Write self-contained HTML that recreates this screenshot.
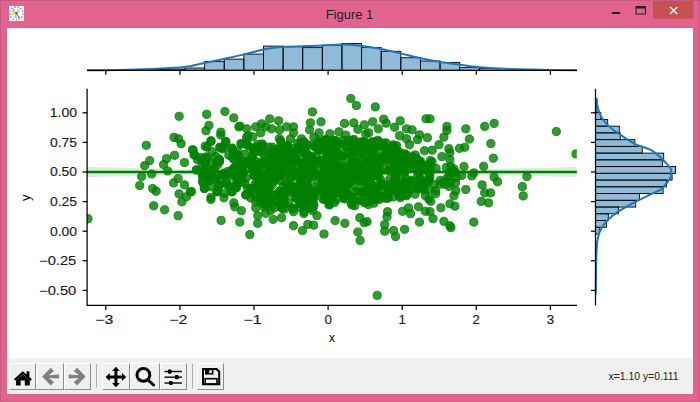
<!DOCTYPE html>
<html><head><meta charset="utf-8"><style>
html,body{margin:0;padding:0;width:700px;height:402px;overflow:hidden;background:#e3638f;font-family:"Liberation Sans",sans-serif}
.abs{position:absolute}
.btn{position:absolute;top:363px;height:27px;box-sizing:border-box;border-right:1px solid #8c8c8c;border-bottom:1px solid #8c8c8c;border-left:1px solid #fff;border-top:1px solid #fff;background:#f0f0f0}
.sep{position:absolute;top:364px;height:24px;width:1px;background:#b0b0b0}
svg text{font-family:"Liberation Sans",sans-serif}
.tl{stroke:#1a1a1a;stroke-width:0.12px;fill:#1a1a1a}
</style></head><body>
<div class="abs" style="left:0;top:0;width:700px;height:402px;box-sizing:border-box;border:1px solid #c65a80"></div>
<div class="abs" style="left:7px;top:28px;width:686px;height:330px;background:#fff"></div>
<div class="abs" style="left:7px;top:358px;width:686px;height:36px;background:#f0f0f0"></div>

<div class="btn" style="left:9px;width:27px"></div>
<div class="btn" style="left:36px;width:28px"></div>
<div class="btn" style="left:64px;width:27px"></div>
<div class="sep" style="left:96px"></div>
<div class="btn" style="left:102px;width:28px"></div>
<div class="btn" style="left:130px;width:30px"></div>
<div class="btn" style="left:160px;width:27px"></div>
<div class="sep" style="left:192px"></div>
<div class="btn" style="left:197px;width:27px"></div>

<svg class="abs" style="left:0;top:0" width="700" height="402" viewBox="0 0 700 402">
<rect x="145.76" y="69.5" width="19.62" height="0.80" fill="#1f77b4" fill-opacity="0.5" stroke="#000" stroke-width="0.9"/>
<rect x="165.38" y="69.1" width="19.62" height="1.20" fill="#1f77b4" fill-opacity="0.5" stroke="#000" stroke-width="0.9"/>
<rect x="185.00" y="68.0" width="19.62" height="2.30" fill="#1f77b4" fill-opacity="0.5" stroke="#000" stroke-width="0.9"/>
<rect x="204.62" y="61.6" width="19.62" height="8.70" fill="#1f77b4" fill-opacity="0.5" stroke="#000" stroke-width="0.9"/>
<rect x="224.24" y="59.1" width="19.62" height="11.20" fill="#1f77b4" fill-opacity="0.5" stroke="#000" stroke-width="0.9"/>
<rect x="243.86" y="54.1" width="19.62" height="16.20" fill="#1f77b4" fill-opacity="0.5" stroke="#000" stroke-width="0.9"/>
<rect x="263.48" y="46.1" width="19.62" height="24.20" fill="#1f77b4" fill-opacity="0.5" stroke="#000" stroke-width="0.9"/>
<rect x="283.10" y="46.7" width="19.62" height="23.60" fill="#1f77b4" fill-opacity="0.5" stroke="#000" stroke-width="0.9"/>
<rect x="302.72" y="47.6" width="19.62" height="22.70" fill="#1f77b4" fill-opacity="0.5" stroke="#000" stroke-width="0.9"/>
<rect x="322.34" y="45.2" width="19.62" height="25.10" fill="#1f77b4" fill-opacity="0.5" stroke="#000" stroke-width="0.9"/>
<rect x="341.96" y="43.4" width="19.62" height="26.90" fill="#1f77b4" fill-opacity="0.5" stroke="#000" stroke-width="0.9"/>
<rect x="361.58" y="47.6" width="19.62" height="22.70" fill="#1f77b4" fill-opacity="0.5" stroke="#000" stroke-width="0.9"/>
<rect x="381.20" y="51.3" width="19.62" height="19.00" fill="#1f77b4" fill-opacity="0.5" stroke="#000" stroke-width="0.9"/>
<rect x="400.82" y="57.7" width="19.62" height="12.60" fill="#1f77b4" fill-opacity="0.5" stroke="#000" stroke-width="0.9"/>
<rect x="420.44" y="61.0" width="19.62" height="9.30" fill="#1f77b4" fill-opacity="0.5" stroke="#000" stroke-width="0.9"/>
<rect x="440.06" y="62.4" width="19.62" height="7.90" fill="#1f77b4" fill-opacity="0.5" stroke="#000" stroke-width="0.9"/>
<rect x="459.68" y="67.6" width="19.62" height="2.70" fill="#1f77b4" fill-opacity="0.5" stroke="#000" stroke-width="0.9"/>
<rect x="479.30" y="68.4" width="19.62" height="1.90" fill="#1f77b4" fill-opacity="0.5" stroke="#000" stroke-width="0.9"/>
<path d="M87.0,70.2 C92.5,70.2 109.5,70.1 120.0,69.9 C130.5,69.7 139.3,69.5 150.0,69.0 C160.7,68.5 175.3,68.0 184.4,67.0 C193.5,66.0 197.8,64.3 204.4,62.9 C211.1,61.5 217.7,60.2 224.3,58.8 C231.0,57.4 237.8,55.9 244.3,54.4 C250.8,52.9 256.8,50.9 263.3,49.6 C269.8,48.3 276.8,47.3 283.4,46.8 C290.0,46.2 296.6,46.5 303.0,46.3 C309.4,46.1 315.6,45.9 322.0,45.6 C328.4,45.3 334.9,44.5 341.5,44.5 C348.1,44.5 355.2,45.2 361.8,45.9 C368.4,46.6 374.6,47.6 381.2,48.9 C387.8,50.2 394.8,52.0 401.4,53.6 C408.0,55.2 414.1,56.8 420.6,58.2 C427.1,59.6 434.1,60.8 440.6,61.9 C447.1,63.0 453.1,63.8 459.6,64.7 C466.1,65.6 473.0,66.6 479.6,67.2 C486.2,67.8 490.6,68.2 499.0,68.6 C507.4,69.0 517.0,69.3 530.0,69.6 C543.0,69.9 569.2,70.1 577.0,70.2" fill="none" stroke="#1f77b4" stroke-width="2"/>
<line x1="87.1" y1="70.3" x2="577" y2="70.3" stroke="#000" stroke-width="1.25"/>
<line x1="105.8" y1="70.3" x2="105.8" y2="74.8" stroke="#000" stroke-width="1.25"/>
<line x1="179.9" y1="70.3" x2="179.9" y2="74.8" stroke="#000" stroke-width="1.25"/>
<line x1="254.0" y1="70.3" x2="254.0" y2="74.8" stroke="#000" stroke-width="1.25"/>
<line x1="328.1" y1="70.3" x2="328.1" y2="74.8" stroke="#000" stroke-width="1.25"/>
<line x1="402.2" y1="70.3" x2="402.2" y2="74.8" stroke="#000" stroke-width="1.25"/>
<line x1="476.3" y1="70.3" x2="476.3" y2="74.8" stroke="#000" stroke-width="1.25"/>
<line x1="550.4" y1="70.3" x2="550.4" y2="74.8" stroke="#000" stroke-width="1.25"/>
<rect x="595.5" y="99.22" width="1.5" height="6.74" fill="#1f77b4" fill-opacity="0.5" stroke="#000" stroke-width="0.9"/>
<rect x="595.5" y="105.96" width="1.5" height="6.74" fill="#1f77b4" fill-opacity="0.5" stroke="#000" stroke-width="0.9"/>
<rect x="595.5" y="112.70" width="5.3" height="6.74" fill="#1f77b4" fill-opacity="0.5" stroke="#000" stroke-width="0.9"/>
<rect x="595.5" y="119.44" width="12.2" height="6.74" fill="#1f77b4" fill-opacity="0.5" stroke="#000" stroke-width="0.9"/>
<rect x="595.5" y="126.18" width="23.8" height="6.74" fill="#1f77b4" fill-opacity="0.5" stroke="#000" stroke-width="0.9"/>
<rect x="595.5" y="132.92" width="24.7" height="6.74" fill="#1f77b4" fill-opacity="0.5" stroke="#000" stroke-width="0.9"/>
<rect x="595.5" y="139.66" width="39.3" height="6.74" fill="#1f77b4" fill-opacity="0.5" stroke="#000" stroke-width="0.9"/>
<rect x="595.5" y="146.40" width="46.7" height="6.74" fill="#1f77b4" fill-opacity="0.5" stroke="#000" stroke-width="0.9"/>
<rect x="595.5" y="153.13" width="68.2" height="6.74" fill="#1f77b4" fill-opacity="0.5" stroke="#000" stroke-width="0.9"/>
<rect x="595.5" y="159.87" width="66.9" height="6.74" fill="#1f77b4" fill-opacity="0.5" stroke="#000" stroke-width="0.9"/>
<rect x="595.5" y="166.61" width="80.1" height="6.74" fill="#1f77b4" fill-opacity="0.5" stroke="#000" stroke-width="0.9"/>
<rect x="595.5" y="173.35" width="76.6" height="6.74" fill="#1f77b4" fill-opacity="0.5" stroke="#000" stroke-width="0.9"/>
<rect x="595.5" y="180.09" width="71" height="6.74" fill="#1f77b4" fill-opacity="0.5" stroke="#000" stroke-width="0.9"/>
<rect x="595.5" y="186.83" width="67.6" height="6.74" fill="#1f77b4" fill-opacity="0.5" stroke="#000" stroke-width="0.9"/>
<rect x="595.5" y="193.57" width="43.9" height="6.74" fill="#1f77b4" fill-opacity="0.5" stroke="#000" stroke-width="0.9"/>
<rect x="595.5" y="200.31" width="40.2" height="6.74" fill="#1f77b4" fill-opacity="0.5" stroke="#000" stroke-width="0.9"/>
<rect x="595.5" y="207.05" width="22.9" height="6.74" fill="#1f77b4" fill-opacity="0.5" stroke="#000" stroke-width="0.9"/>
<rect x="595.5" y="213.78" width="12.8" height="6.74" fill="#1f77b4" fill-opacity="0.5" stroke="#000" stroke-width="0.9"/>
<rect x="595.5" y="220.52" width="10.9" height="6.74" fill="#1f77b4" fill-opacity="0.5" stroke="#000" stroke-width="0.9"/>
<rect x="595.5" y="227.26" width="3.8" height="6.74" fill="#1f77b4" fill-opacity="0.5" stroke="#000" stroke-width="0.9"/>
<path d="M596.5,98.0 C596.7,99.6 597.0,104.4 597.8,107.5 C598.6,110.6 599.4,113.7 601.2,116.8 C603.0,119.9 605.6,123.1 608.7,126.1 C611.8,129.0 615.5,131.6 619.9,134.5 C624.2,137.4 629.5,141.2 634.8,143.8 C640.1,146.5 646.9,147.8 651.6,150.4 C656.3,153.1 659.7,156.8 662.8,159.7 C665.9,162.6 668.8,165.9 670.2,168.0 C671.6,170.1 671.2,170.8 671.2,172.5 C671.2,174.2 671.3,175.8 670.2,178.0 C669.1,180.2 666.2,183.6 664.6,185.5 C663.0,187.4 664.0,187.4 660.9,189.3 C657.8,191.2 651.0,194.2 646.0,196.7 C641.0,199.2 635.7,201.7 631.0,204.2 C626.3,206.7 621.7,209.1 618.0,211.6 C614.3,214.1 611.5,216.3 608.7,219.1 C605.9,221.9 603.1,225.0 601.2,228.4 C599.3,231.8 598.3,234.3 597.5,239.6 C596.7,244.9 596.5,250.8 596.2,260.0 C595.9,269.2 595.9,289.2 595.8,295.0" fill="none" stroke="#1f77b4" stroke-width="2"/>
<line x1="595.5" y1="88.8" x2="595.5" y2="305.4" stroke="#000" stroke-width="1.25"/>
<line x1="591.0" y1="112.8" x2="595.5" y2="112.8" stroke="#000" stroke-width="1.25"/>
<line x1="591.0" y1="142.4" x2="595.5" y2="142.4" stroke="#000" stroke-width="1.25"/>
<line x1="591.0" y1="172.0" x2="595.5" y2="172.0" stroke="#000" stroke-width="1.25"/>
<line x1="591.0" y1="201.6" x2="595.5" y2="201.6" stroke="#000" stroke-width="1.25"/>
<line x1="591.0" y1="231.2" x2="595.5" y2="231.2" stroke="#000" stroke-width="1.25"/>
<line x1="591.0" y1="260.8" x2="595.5" y2="260.8" stroke="#000" stroke-width="1.25"/>
<line x1="591.0" y1="290.4" x2="595.5" y2="290.4" stroke="#000" stroke-width="1.25"/>
<defs><clipPath id="ax"><rect x="87" y="88.8" width="489.8" height="216.6"/></clipPath></defs>
<g clip-path="url(#ax)">
<path d="M87,166.7 C200,170 260,170.5 328,170.5 C400,170.5 460,170 577,167 L577,177 C460,174 400,173.5 328,173.5 C260,173.5 200,174 87,177.3Z" fill="#008000" fill-opacity="0.15"/>
<g fill="#008000" fill-opacity="0.8" stroke="#008000" stroke-opacity="0.8" stroke-width="1">
<circle cx="336.9" cy="160.1" r="4.1"/>
<circle cx="321.9" cy="161.6" r="4.1"/>
<circle cx="241.2" cy="176.8" r="4.1"/>
<circle cx="394.7" cy="181.2" r="4.1"/>
<circle cx="401.7" cy="154.7" r="4.1"/>
<circle cx="371.0" cy="179.9" r="4.1"/>
<circle cx="450.7" cy="166.4" r="4.1"/>
<circle cx="313.8" cy="206.1" r="4.1"/>
<circle cx="285.0" cy="204.2" r="4.1"/>
<circle cx="334.5" cy="181.3" r="4.1"/>
<circle cx="370.1" cy="169.1" r="4.1"/>
<circle cx="306.1" cy="179.8" r="4.1"/>
<circle cx="423.9" cy="190.1" r="4.1"/>
<circle cx="243.3" cy="163.8" r="4.1"/>
<circle cx="351.5" cy="177.8" r="4.1"/>
<circle cx="284.1" cy="194.7" r="4.1"/>
<circle cx="329.9" cy="168.5" r="4.1"/>
<circle cx="327.7" cy="166.9" r="4.1"/>
<circle cx="323.4" cy="161.7" r="4.1"/>
<circle cx="236.8" cy="180.2" r="4.1"/>
<circle cx="311.6" cy="197.5" r="4.1"/>
<circle cx="275.9" cy="201.5" r="4.1"/>
<circle cx="343.7" cy="194.8" r="4.1"/>
<circle cx="240.6" cy="166.3" r="4.1"/>
<circle cx="389.5" cy="186.8" r="4.1"/>
<circle cx="377.7" cy="140.3" r="4.1"/>
<circle cx="370.8" cy="195.3" r="4.1"/>
<circle cx="222.6" cy="175.3" r="4.1"/>
<circle cx="265.2" cy="201.7" r="4.1"/>
<circle cx="362.3" cy="142.4" r="4.1"/>
<circle cx="268.8" cy="200.4" r="4.1"/>
<circle cx="283.5" cy="164.6" r="4.1"/>
<circle cx="414.5" cy="167.2" r="4.1"/>
<circle cx="384.5" cy="160.0" r="4.1"/>
<circle cx="324.5" cy="198.4" r="4.1"/>
<circle cx="208.4" cy="180.9" r="4.1"/>
<circle cx="369.0" cy="174.9" r="4.1"/>
<circle cx="353.1" cy="140.8" r="4.1"/>
<circle cx="334.4" cy="202.6" r="4.1"/>
<circle cx="343.8" cy="166.5" r="4.1"/>
<circle cx="354.6" cy="162.2" r="4.1"/>
<circle cx="262.5" cy="175.1" r="4.1"/>
<circle cx="220.6" cy="179.4" r="4.1"/>
<circle cx="410.9" cy="189.5" r="4.1"/>
<circle cx="314.3" cy="197.4" r="4.1"/>
<circle cx="283.3" cy="154.3" r="4.1"/>
<circle cx="325.5" cy="139.4" r="4.1"/>
<circle cx="238.2" cy="160.5" r="4.1"/>
<circle cx="353.9" cy="139.4" r="4.1"/>
<circle cx="286.7" cy="146.3" r="4.1"/>
<circle cx="231.0" cy="171.2" r="4.1"/>
<circle cx="334.7" cy="191.0" r="4.1"/>
<circle cx="304.7" cy="165.5" r="4.1"/>
<circle cx="402.5" cy="158.0" r="4.1"/>
<circle cx="353.9" cy="145.9" r="4.1"/>
<circle cx="417.9" cy="189.0" r="4.1"/>
<circle cx="332.8" cy="155.2" r="4.1"/>
<circle cx="362.8" cy="165.5" r="4.1"/>
<circle cx="288.2" cy="188.0" r="4.1"/>
<circle cx="411.4" cy="188.8" r="4.1"/>
<circle cx="376.5" cy="196.8" r="4.1"/>
<circle cx="260.0" cy="166.1" r="4.1"/>
<circle cx="371.8" cy="159.1" r="4.1"/>
<circle cx="235.5" cy="187.9" r="4.1"/>
<circle cx="262.2" cy="143.9" r="4.1"/>
<circle cx="319.8" cy="191.4" r="4.1"/>
<circle cx="396.1" cy="162.3" r="4.1"/>
<circle cx="334.7" cy="192.3" r="4.1"/>
<circle cx="319.5" cy="161.4" r="4.1"/>
<circle cx="287.3" cy="155.6" r="4.1"/>
<circle cx="276.1" cy="149.0" r="4.1"/>
<circle cx="346.5" cy="193.2" r="4.1"/>
<circle cx="342.3" cy="190.7" r="4.1"/>
<circle cx="383.4" cy="155.5" r="4.1"/>
<circle cx="311.5" cy="200.9" r="4.1"/>
<circle cx="366.5" cy="177.3" r="4.1"/>
<circle cx="322.9" cy="199.0" r="4.1"/>
<circle cx="336.3" cy="166.6" r="4.1"/>
<circle cx="265.6" cy="184.4" r="4.1"/>
<circle cx="306.1" cy="165.6" r="4.1"/>
<circle cx="366.6" cy="162.2" r="4.1"/>
<circle cx="359.0" cy="146.4" r="4.1"/>
<circle cx="401.9" cy="194.4" r="4.1"/>
<circle cx="279.5" cy="193.4" r="4.1"/>
<circle cx="244.9" cy="154.4" r="4.1"/>
<circle cx="323.3" cy="188.4" r="4.1"/>
<circle cx="383.3" cy="196.7" r="4.1"/>
<circle cx="293.5" cy="207.9" r="4.1"/>
<circle cx="326.3" cy="148.5" r="4.1"/>
<circle cx="301.7" cy="192.8" r="4.1"/>
<circle cx="359.5" cy="157.2" r="4.1"/>
<circle cx="333.6" cy="149.7" r="4.1"/>
<circle cx="302.5" cy="195.6" r="4.1"/>
<circle cx="297.6" cy="143.4" r="4.1"/>
<circle cx="297.2" cy="161.0" r="4.1"/>
<circle cx="252.4" cy="156.3" r="4.1"/>
<circle cx="422.2" cy="171.0" r="4.1"/>
<circle cx="339.3" cy="167.8" r="4.1"/>
<circle cx="295.5" cy="175.1" r="4.1"/>
<circle cx="420.2" cy="178.7" r="4.1"/>
<circle cx="255.1" cy="184.2" r="4.1"/>
<circle cx="369.4" cy="159.2" r="4.1"/>
<circle cx="323.9" cy="162.8" r="4.1"/>
<circle cx="342.9" cy="182.8" r="4.1"/>
<circle cx="395.9" cy="157.9" r="4.1"/>
<circle cx="327.2" cy="153.8" r="4.1"/>
<circle cx="335.9" cy="140.7" r="4.1"/>
<circle cx="233.4" cy="172.2" r="4.1"/>
<circle cx="268.7" cy="162.2" r="4.1"/>
<circle cx="313.7" cy="203.7" r="4.1"/>
<circle cx="304.0" cy="181.7" r="4.1"/>
<circle cx="327.3" cy="140.0" r="4.1"/>
<circle cx="247.3" cy="162.1" r="4.1"/>
<circle cx="388.2" cy="197.9" r="4.1"/>
<circle cx="348.1" cy="176.6" r="4.1"/>
<circle cx="235.4" cy="171.6" r="4.1"/>
<circle cx="333.5" cy="160.1" r="4.1"/>
<circle cx="327.0" cy="174.5" r="4.1"/>
<circle cx="346.0" cy="184.0" r="4.1"/>
<circle cx="356.3" cy="177.3" r="4.1"/>
<circle cx="394.0" cy="158.9" r="4.1"/>
<circle cx="261.8" cy="202.4" r="4.1"/>
<circle cx="322.6" cy="181.8" r="4.1"/>
<circle cx="432.0" cy="161.8" r="4.1"/>
<circle cx="378.0" cy="157.4" r="4.1"/>
<circle cx="215.0" cy="178.4" r="4.1"/>
<circle cx="357.2" cy="166.9" r="4.1"/>
<circle cx="269.2" cy="205.7" r="4.1"/>
<circle cx="295.3" cy="156.7" r="4.1"/>
<circle cx="379.1" cy="161.4" r="4.1"/>
<circle cx="398.9" cy="156.0" r="4.1"/>
<circle cx="334.8" cy="189.4" r="4.1"/>
<circle cx="299.7" cy="171.5" r="4.1"/>
<circle cx="417.7" cy="175.2" r="4.1"/>
<circle cx="326.1" cy="157.0" r="4.1"/>
<circle cx="417.8" cy="186.0" r="4.1"/>
<circle cx="393.2" cy="144.8" r="4.1"/>
<circle cx="333.2" cy="141.3" r="4.1"/>
<circle cx="403.6" cy="184.1" r="4.1"/>
<circle cx="211.8" cy="186.7" r="4.1"/>
<circle cx="330.8" cy="167.5" r="4.1"/>
<circle cx="351.7" cy="174.6" r="4.1"/>
<circle cx="315.6" cy="146.2" r="4.1"/>
<circle cx="384.7" cy="148.7" r="4.1"/>
<circle cx="308.0" cy="175.2" r="4.1"/>
<circle cx="335.6" cy="169.1" r="4.1"/>
<circle cx="397.1" cy="183.8" r="4.1"/>
<circle cx="420.0" cy="187.6" r="4.1"/>
<circle cx="250.4" cy="191.6" r="4.1"/>
<circle cx="354.5" cy="199.0" r="4.1"/>
<circle cx="302.1" cy="199.2" r="4.1"/>
<circle cx="416.5" cy="158.5" r="4.1"/>
<circle cx="330.3" cy="185.7" r="4.1"/>
<circle cx="391.2" cy="151.2" r="4.1"/>
<circle cx="332.4" cy="184.5" r="4.1"/>
<circle cx="395.9" cy="191.5" r="4.1"/>
<circle cx="372.0" cy="193.5" r="4.1"/>
<circle cx="253.7" cy="163.5" r="4.1"/>
<circle cx="374.5" cy="149.1" r="4.1"/>
<circle cx="255.5" cy="201.6" r="4.1"/>
<circle cx="225.5" cy="175.4" r="4.1"/>
<circle cx="351.4" cy="178.9" r="4.1"/>
<circle cx="397.9" cy="169.2" r="4.1"/>
<circle cx="328.0" cy="178.8" r="4.1"/>
<circle cx="390.3" cy="185.4" r="4.1"/>
<circle cx="406.6" cy="164.7" r="4.1"/>
<circle cx="340.6" cy="187.3" r="4.1"/>
<circle cx="286.3" cy="161.7" r="4.1"/>
<circle cx="267.3" cy="189.8" r="4.1"/>
<circle cx="271.4" cy="160.4" r="4.1"/>
<circle cx="218.9" cy="186.1" r="4.1"/>
<circle cx="379.3" cy="165.3" r="4.1"/>
<circle cx="268.6" cy="165.5" r="4.1"/>
<circle cx="429.8" cy="178.0" r="4.1"/>
<circle cx="283.5" cy="172.0" r="4.1"/>
<circle cx="367.7" cy="162.2" r="4.1"/>
<circle cx="281.9" cy="197.8" r="4.1"/>
<circle cx="368.8" cy="145.4" r="4.1"/>
<circle cx="295.5" cy="186.3" r="4.1"/>
<circle cx="332.1" cy="195.6" r="4.1"/>
<circle cx="262.3" cy="170.9" r="4.1"/>
<circle cx="316.6" cy="155.9" r="4.1"/>
<circle cx="449.4" cy="175.8" r="4.1"/>
<circle cx="394.4" cy="189.8" r="4.1"/>
<circle cx="332.9" cy="186.7" r="4.1"/>
<circle cx="380.5" cy="179.7" r="4.1"/>
<circle cx="322.5" cy="143.4" r="4.1"/>
<circle cx="283.3" cy="196.1" r="4.1"/>
<circle cx="269.0" cy="155.0" r="4.1"/>
<circle cx="259.1" cy="184.0" r="4.1"/>
<circle cx="365.5" cy="153.6" r="4.1"/>
<circle cx="362.8" cy="153.6" r="4.1"/>
<circle cx="446.3" cy="167.4" r="4.1"/>
<circle cx="343.1" cy="156.0" r="4.1"/>
<circle cx="303.3" cy="176.5" r="4.1"/>
<circle cx="303.1" cy="204.1" r="4.1"/>
<circle cx="312.6" cy="197.4" r="4.1"/>
<circle cx="369.4" cy="147.4" r="4.1"/>
<circle cx="335.6" cy="186.3" r="4.1"/>
<circle cx="332.9" cy="141.0" r="4.1"/>
<circle cx="254.6" cy="175.5" r="4.1"/>
<circle cx="425.5" cy="166.7" r="4.1"/>
<circle cx="320.4" cy="161.8" r="4.1"/>
<circle cx="420.7" cy="161.5" r="4.1"/>
<circle cx="307.5" cy="186.5" r="4.1"/>
<circle cx="395.4" cy="147.3" r="4.1"/>
<circle cx="324.1" cy="140.6" r="4.1"/>
<circle cx="269.4" cy="168.9" r="4.1"/>
<circle cx="369.9" cy="187.9" r="4.1"/>
<circle cx="311.2" cy="158.4" r="4.1"/>
<circle cx="276.6" cy="151.9" r="4.1"/>
<circle cx="354.4" cy="173.9" r="4.1"/>
<circle cx="264.0" cy="161.9" r="4.1"/>
<circle cx="250.2" cy="188.6" r="4.1"/>
<circle cx="310.9" cy="175.6" r="4.1"/>
<circle cx="329.4" cy="157.5" r="4.1"/>
<circle cx="259.2" cy="190.7" r="4.1"/>
<circle cx="360.8" cy="200.5" r="4.1"/>
<circle cx="249.6" cy="163.8" r="4.1"/>
<circle cx="252.7" cy="169.5" r="4.1"/>
<circle cx="284.4" cy="163.6" r="4.1"/>
<circle cx="270.6" cy="210.5" r="4.1"/>
<circle cx="333.5" cy="183.9" r="4.1"/>
<circle cx="336.4" cy="148.5" r="4.1"/>
<circle cx="306.9" cy="154.6" r="4.1"/>
<circle cx="372.7" cy="163.8" r="4.1"/>
<circle cx="301.4" cy="183.3" r="4.1"/>
<circle cx="298.4" cy="162.0" r="4.1"/>
<circle cx="257.7" cy="150.0" r="4.1"/>
<circle cx="321.8" cy="183.1" r="4.1"/>
<circle cx="309.4" cy="178.7" r="4.1"/>
<circle cx="378.9" cy="145.5" r="4.1"/>
<circle cx="306.4" cy="157.4" r="4.1"/>
<circle cx="271.4" cy="194.6" r="4.1"/>
<circle cx="287.6" cy="145.1" r="4.1"/>
<circle cx="291.3" cy="158.0" r="4.1"/>
<circle cx="320.5" cy="149.2" r="4.1"/>
<circle cx="404.3" cy="167.4" r="4.1"/>
<circle cx="296.3" cy="172.1" r="4.1"/>
<circle cx="406.9" cy="194.5" r="4.1"/>
<circle cx="253.7" cy="175.5" r="4.1"/>
<circle cx="263.0" cy="182.3" r="4.1"/>
<circle cx="361.1" cy="150.7" r="4.1"/>
<circle cx="395.5" cy="177.5" r="4.1"/>
<circle cx="337.4" cy="174.6" r="4.1"/>
<circle cx="333.9" cy="140.4" r="4.1"/>
<circle cx="291.6" cy="160.1" r="4.1"/>
<circle cx="276.2" cy="157.9" r="4.1"/>
<circle cx="339.6" cy="155.4" r="4.1"/>
<circle cx="372.8" cy="198.3" r="4.1"/>
<circle cx="300.2" cy="179.8" r="4.1"/>
<circle cx="326.4" cy="140.9" r="4.1"/>
<circle cx="269.9" cy="166.9" r="4.1"/>
<circle cx="264.6" cy="154.9" r="4.1"/>
<circle cx="290.0" cy="180.0" r="4.1"/>
<circle cx="355.5" cy="191.6" r="4.1"/>
<circle cx="428.9" cy="199.0" r="4.1"/>
<circle cx="351.9" cy="204.9" r="4.1"/>
<circle cx="370.1" cy="150.6" r="4.1"/>
<circle cx="233.3" cy="168.7" r="4.1"/>
<circle cx="358.1" cy="146.7" r="4.1"/>
<circle cx="280.4" cy="153.7" r="4.1"/>
<circle cx="235.9" cy="185.8" r="4.1"/>
<circle cx="394.7" cy="173.0" r="4.1"/>
<circle cx="426.0" cy="181.0" r="4.1"/>
<circle cx="381.4" cy="159.8" r="4.1"/>
<circle cx="337.1" cy="151.8" r="4.1"/>
<circle cx="226.9" cy="184.4" r="4.1"/>
<circle cx="345.4" cy="172.9" r="4.1"/>
<circle cx="402.0" cy="162.1" r="4.1"/>
<circle cx="436.1" cy="168.3" r="4.1"/>
<circle cx="378.6" cy="141.2" r="4.1"/>
<circle cx="329.9" cy="156.1" r="4.1"/>
<circle cx="316.9" cy="190.2" r="4.1"/>
<circle cx="360.0" cy="142.0" r="4.1"/>
<circle cx="261.1" cy="152.2" r="4.1"/>
<circle cx="336.1" cy="176.9" r="4.1"/>
<circle cx="281.5" cy="143.7" r="4.1"/>
<circle cx="286.2" cy="182.2" r="4.1"/>
<circle cx="404.5" cy="172.5" r="4.1"/>
<circle cx="440.2" cy="180.3" r="4.1"/>
<circle cx="306.3" cy="176.2" r="4.1"/>
<circle cx="372.9" cy="196.6" r="4.1"/>
<circle cx="399.3" cy="196.1" r="4.1"/>
<circle cx="419.1" cy="172.6" r="4.1"/>
<circle cx="440.3" cy="184.2" r="4.1"/>
<circle cx="281.7" cy="174.6" r="4.1"/>
<circle cx="350.5" cy="182.5" r="4.1"/>
<circle cx="320.2" cy="160.3" r="4.1"/>
<circle cx="279.4" cy="192.7" r="4.1"/>
<circle cx="398.8" cy="174.9" r="4.1"/>
<circle cx="286.6" cy="186.8" r="4.1"/>
<circle cx="416.8" cy="160.2" r="4.1"/>
<circle cx="347.8" cy="183.1" r="4.1"/>
<circle cx="325.4" cy="149.2" r="4.1"/>
<circle cx="281.4" cy="158.4" r="4.1"/>
<circle cx="450.2" cy="182.9" r="4.1"/>
<circle cx="249.3" cy="146.7" r="4.1"/>
<circle cx="353.6" cy="186.0" r="4.1"/>
<circle cx="280.2" cy="196.2" r="4.1"/>
<circle cx="361.6" cy="200.5" r="4.1"/>
<circle cx="377.8" cy="167.8" r="4.1"/>
<circle cx="368.8" cy="160.4" r="4.1"/>
<circle cx="395.1" cy="161.3" r="4.1"/>
<circle cx="309.6" cy="201.7" r="4.1"/>
<circle cx="339.7" cy="176.1" r="4.1"/>
<circle cx="311.8" cy="198.8" r="4.1"/>
<circle cx="334.1" cy="183.3" r="4.1"/>
<circle cx="341.9" cy="192.6" r="4.1"/>
<circle cx="324.0" cy="191.1" r="4.1"/>
<circle cx="274.4" cy="158.1" r="4.1"/>
<circle cx="257.6" cy="144.4" r="4.1"/>
<circle cx="307.4" cy="164.3" r="4.1"/>
<circle cx="282.6" cy="208.6" r="4.1"/>
<circle cx="339.8" cy="186.5" r="4.1"/>
<circle cx="370.2" cy="195.0" r="4.1"/>
<circle cx="275.5" cy="176.6" r="4.1"/>
<circle cx="310.7" cy="192.9" r="4.1"/>
<circle cx="304.8" cy="171.8" r="4.1"/>
<circle cx="418.9" cy="170.5" r="4.1"/>
<circle cx="296.9" cy="193.3" r="4.1"/>
<circle cx="337.1" cy="170.5" r="4.1"/>
<circle cx="264.5" cy="180.8" r="4.1"/>
<circle cx="338.1" cy="182.9" r="4.1"/>
<circle cx="362.9" cy="168.7" r="4.1"/>
<circle cx="384.9" cy="161.5" r="4.1"/>
<circle cx="336.2" cy="164.9" r="4.1"/>
<circle cx="260.0" cy="183.1" r="4.1"/>
<circle cx="376.2" cy="149.9" r="4.1"/>
<circle cx="274.7" cy="194.8" r="4.1"/>
<circle cx="313.7" cy="196.4" r="4.1"/>
<circle cx="349.8" cy="143.6" r="4.1"/>
<circle cx="346.7" cy="184.4" r="4.1"/>
<circle cx="286.3" cy="152.0" r="4.1"/>
<circle cx="259.5" cy="164.6" r="4.1"/>
<circle cx="236.6" cy="187.7" r="4.1"/>
<circle cx="338.0" cy="169.5" r="4.1"/>
<circle cx="286.9" cy="159.4" r="4.1"/>
<circle cx="308.7" cy="171.4" r="4.1"/>
<circle cx="403.3" cy="155.3" r="4.1"/>
<circle cx="358.8" cy="180.6" r="4.1"/>
<circle cx="421.6" cy="186.0" r="4.1"/>
<circle cx="277.0" cy="163.3" r="4.1"/>
<circle cx="419.9" cy="180.2" r="4.1"/>
<circle cx="381.9" cy="185.3" r="4.1"/>
<circle cx="392.8" cy="146.7" r="4.1"/>
<circle cx="376.1" cy="190.4" r="4.1"/>
<circle cx="383.9" cy="197.3" r="4.1"/>
<circle cx="394.5" cy="166.1" r="4.1"/>
<circle cx="371.6" cy="184.1" r="4.1"/>
<circle cx="351.6" cy="162.2" r="4.1"/>
<circle cx="289.5" cy="165.8" r="4.1"/>
<circle cx="318.1" cy="141.7" r="4.1"/>
<circle cx="280.6" cy="204.9" r="4.1"/>
<circle cx="294.1" cy="171.9" r="4.1"/>
<circle cx="394.5" cy="179.6" r="4.1"/>
<circle cx="303.1" cy="191.3" r="4.1"/>
<circle cx="304.3" cy="143.4" r="4.1"/>
<circle cx="247.7" cy="188.1" r="4.1"/>
<circle cx="343.1" cy="144.2" r="4.1"/>
<circle cx="274.7" cy="200.5" r="4.1"/>
<circle cx="287.9" cy="156.1" r="4.1"/>
<circle cx="400.3" cy="197.7" r="4.1"/>
<circle cx="341.8" cy="156.7" r="4.1"/>
<circle cx="430.1" cy="173.1" r="4.1"/>
<circle cx="408.2" cy="182.2" r="4.1"/>
<circle cx="296.8" cy="150.4" r="4.1"/>
<circle cx="258.3" cy="198.2" r="4.1"/>
<circle cx="253.7" cy="148.5" r="4.1"/>
<circle cx="386.3" cy="170.2" r="4.1"/>
<circle cx="343.7" cy="179.7" r="4.1"/>
<circle cx="284.8" cy="159.8" r="4.1"/>
<circle cx="364.8" cy="202.8" r="4.1"/>
<circle cx="284.6" cy="209.0" r="4.1"/>
<circle cx="369.3" cy="189.3" r="4.1"/>
<circle cx="424.6" cy="184.1" r="4.1"/>
<circle cx="323.9" cy="179.6" r="4.1"/>
<circle cx="370.0" cy="172.1" r="4.1"/>
<circle cx="336.0" cy="186.5" r="4.1"/>
<circle cx="312.4" cy="160.6" r="4.1"/>
<circle cx="303.1" cy="195.7" r="4.1"/>
<circle cx="415.7" cy="159.8" r="4.1"/>
<circle cx="428.6" cy="181.3" r="4.1"/>
<circle cx="300.1" cy="186.2" r="4.1"/>
<circle cx="337.7" cy="144.4" r="4.1"/>
<circle cx="300.5" cy="208.0" r="4.1"/>
<circle cx="311.8" cy="156.6" r="4.1"/>
<circle cx="375.9" cy="145.2" r="4.1"/>
<circle cx="407.8" cy="163.1" r="4.1"/>
<circle cx="329.8" cy="180.2" r="4.1"/>
<circle cx="354.8" cy="153.5" r="4.1"/>
<circle cx="256.6" cy="185.5" r="4.1"/>
<circle cx="360.8" cy="161.0" r="4.1"/>
<circle cx="298.2" cy="154.2" r="4.1"/>
<circle cx="381.6" cy="183.3" r="4.1"/>
<circle cx="325.6" cy="143.9" r="4.1"/>
<circle cx="290.1" cy="156.7" r="4.1"/>
<circle cx="423.9" cy="189.1" r="4.1"/>
<circle cx="288.4" cy="149.8" r="4.1"/>
<circle cx="348.6" cy="151.9" r="4.1"/>
<circle cx="290.7" cy="189.3" r="4.1"/>
<circle cx="223.4" cy="173.1" r="4.1"/>
<circle cx="410.8" cy="180.2" r="4.1"/>
<circle cx="386.5" cy="194.6" r="4.1"/>
<circle cx="277.2" cy="167.4" r="4.1"/>
<circle cx="323.9" cy="182.8" r="4.1"/>
<circle cx="280.1" cy="180.3" r="4.1"/>
<circle cx="339.7" cy="184.3" r="4.1"/>
<circle cx="269.5" cy="169.5" r="4.1"/>
<circle cx="236.2" cy="184.5" r="4.1"/>
<circle cx="309.7" cy="163.2" r="4.1"/>
<circle cx="375.7" cy="194.4" r="4.1"/>
<circle cx="420.0" cy="163.0" r="4.1"/>
<circle cx="312.6" cy="210.6" r="4.1"/>
<circle cx="327.7" cy="149.7" r="4.1"/>
<circle cx="269.2" cy="152.6" r="4.1"/>
<circle cx="324.2" cy="190.0" r="4.1"/>
<circle cx="317.8" cy="181.2" r="4.1"/>
<circle cx="235.2" cy="166.7" r="4.1"/>
<circle cx="377.3" cy="193.2" r="4.1"/>
<circle cx="375.1" cy="157.9" r="4.1"/>
<circle cx="367.4" cy="183.1" r="4.1"/>
<circle cx="282.5" cy="199.8" r="4.1"/>
<circle cx="273.8" cy="155.6" r="4.1"/>
<circle cx="403.5" cy="186.2" r="4.1"/>
<circle cx="291.6" cy="159.2" r="4.1"/>
<circle cx="369.5" cy="180.9" r="4.1"/>
<circle cx="308.6" cy="206.6" r="4.1"/>
<circle cx="267.1" cy="200.8" r="4.1"/>
<circle cx="358.3" cy="191.5" r="4.1"/>
<circle cx="254.8" cy="160.8" r="4.1"/>
<circle cx="428.3" cy="164.6" r="4.1"/>
<circle cx="343.8" cy="198.4" r="4.1"/>
<circle cx="336.7" cy="199.5" r="4.1"/>
<circle cx="255.1" cy="196.2" r="4.1"/>
<circle cx="265.5" cy="182.1" r="4.1"/>
<circle cx="334.0" cy="163.7" r="4.1"/>
<circle cx="277.7" cy="176.8" r="4.1"/>
<circle cx="342.7" cy="140.3" r="4.1"/>
<circle cx="308.0" cy="166.8" r="4.1"/>
<circle cx="415.0" cy="194.2" r="4.1"/>
<circle cx="395.7" cy="175.2" r="4.1"/>
<circle cx="413.0" cy="167.5" r="4.1"/>
<circle cx="369.3" cy="189.5" r="4.1"/>
<circle cx="290.6" cy="185.6" r="4.1"/>
<circle cx="322.2" cy="165.4" r="4.1"/>
<circle cx="372.5" cy="141.5" r="4.1"/>
<circle cx="329.4" cy="204.9" r="4.1"/>
<circle cx="419.6" cy="182.4" r="4.1"/>
<circle cx="361.5" cy="192.1" r="4.1"/>
<circle cx="313.3" cy="187.0" r="4.1"/>
<circle cx="330.7" cy="162.9" r="4.1"/>
<circle cx="318.5" cy="190.1" r="4.1"/>
<circle cx="315.5" cy="161.9" r="4.1"/>
<circle cx="433.9" cy="184.4" r="4.1"/>
<circle cx="241.4" cy="182.0" r="4.1"/>
<circle cx="329.6" cy="156.3" r="4.1"/>
<circle cx="272.0" cy="184.9" r="4.1"/>
<circle cx="280.4" cy="148.5" r="4.1"/>
<circle cx="419.0" cy="160.5" r="4.1"/>
<circle cx="340.3" cy="168.9" r="4.1"/>
<circle cx="304.0" cy="211.7" r="4.1"/>
<circle cx="343.7" cy="190.7" r="4.1"/>
<circle cx="375.9" cy="166.1" r="4.1"/>
<circle cx="389.5" cy="159.4" r="4.1"/>
<circle cx="304.4" cy="172.8" r="4.1"/>
<circle cx="322.2" cy="144.8" r="4.1"/>
<circle cx="386.2" cy="193.5" r="4.1"/>
<circle cx="323.5" cy="173.6" r="4.1"/>
<circle cx="395.7" cy="172.1" r="4.1"/>
<circle cx="331.7" cy="193.9" r="4.1"/>
<circle cx="286.7" cy="174.0" r="4.1"/>
<circle cx="365.1" cy="165.7" r="4.1"/>
<circle cx="330.8" cy="193.9" r="4.1"/>
<circle cx="300.9" cy="175.1" r="4.1"/>
<circle cx="278.5" cy="157.2" r="4.1"/>
<circle cx="325.2" cy="168.7" r="4.1"/>
<circle cx="252.8" cy="168.0" r="4.1"/>
<circle cx="354.8" cy="205.8" r="4.1"/>
<circle cx="309.5" cy="189.0" r="4.1"/>
<circle cx="364.2" cy="173.0" r="4.1"/>
<circle cx="347.9" cy="177.3" r="4.1"/>
<circle cx="385.9" cy="142.8" r="4.1"/>
<circle cx="304.2" cy="141.8" r="4.1"/>
<circle cx="243.0" cy="171.1" r="4.1"/>
<circle cx="209.6" cy="176.8" r="4.1"/>
<circle cx="331.4" cy="168.0" r="4.1"/>
<circle cx="365.8" cy="165.4" r="4.1"/>
<circle cx="331.7" cy="192.5" r="4.1"/>
<circle cx="384.7" cy="155.5" r="4.1"/>
<circle cx="370.1" cy="168.2" r="4.1"/>
<circle cx="443.6" cy="182.1" r="4.1"/>
<circle cx="384.6" cy="186.5" r="4.1"/>
<circle cx="299.2" cy="200.9" r="4.1"/>
<circle cx="312.0" cy="169.4" r="4.1"/>
<circle cx="232.7" cy="176.0" r="4.1"/>
<circle cx="429.3" cy="189.9" r="4.1"/>
<circle cx="370.0" cy="148.3" r="4.1"/>
<circle cx="413.2" cy="181.2" r="4.1"/>
<circle cx="381.1" cy="145.7" r="4.1"/>
<circle cx="262.7" cy="196.9" r="4.1"/>
<circle cx="322.0" cy="147.6" r="4.1"/>
<circle cx="301.6" cy="151.7" r="4.1"/>
<circle cx="236.9" cy="173.2" r="4.1"/>
<circle cx="327.3" cy="169.8" r="4.1"/>
<circle cx="312.8" cy="168.0" r="4.1"/>
<circle cx="353.4" cy="200.2" r="4.1"/>
<circle cx="366.3" cy="176.9" r="4.1"/>
<circle cx="449.2" cy="173.0" r="4.1"/>
<circle cx="323.5" cy="188.7" r="4.1"/>
<circle cx="379.5" cy="194.8" r="4.1"/>
<circle cx="365.8" cy="142.6" r="4.1"/>
<circle cx="251.9" cy="166.9" r="4.1"/>
<circle cx="336.7" cy="172.1" r="4.1"/>
<circle cx="372.3" cy="156.8" r="4.1"/>
<circle cx="377.5" cy="188.8" r="4.1"/>
<circle cx="401.6" cy="191.2" r="4.1"/>
<circle cx="262.9" cy="145.7" r="4.1"/>
<circle cx="365.5" cy="192.5" r="4.1"/>
<circle cx="388.3" cy="153.1" r="4.1"/>
<circle cx="253.5" cy="151.8" r="4.1"/>
<circle cx="237.1" cy="184.9" r="4.1"/>
<circle cx="390.3" cy="167.7" r="4.1"/>
<circle cx="258.3" cy="176.6" r="4.1"/>
<circle cx="272.4" cy="147.2" r="4.1"/>
<circle cx="267.8" cy="175.6" r="4.1"/>
<circle cx="264.9" cy="204.2" r="4.1"/>
<circle cx="394.6" cy="187.3" r="4.1"/>
<circle cx="326.9" cy="159.7" r="4.1"/>
<circle cx="376.6" cy="199.3" r="4.1"/>
<circle cx="354.7" cy="143.0" r="4.1"/>
<circle cx="302.6" cy="146.8" r="4.1"/>
<circle cx="308.6" cy="160.4" r="4.1"/>
<circle cx="372.1" cy="185.3" r="4.1"/>
<circle cx="236.6" cy="172.4" r="4.1"/>
<circle cx="307.4" cy="144.9" r="4.1"/>
<circle cx="291.9" cy="193.2" r="4.1"/>
<circle cx="310.9" cy="207.7" r="4.1"/>
<circle cx="351.5" cy="167.7" r="4.1"/>
<circle cx="354.8" cy="161.9" r="4.1"/>
<circle cx="350.2" cy="196.2" r="4.1"/>
<circle cx="363.1" cy="141.7" r="4.1"/>
<circle cx="301.3" cy="192.5" r="4.1"/>
<circle cx="321.2" cy="143.4" r="4.1"/>
<circle cx="261.8" cy="189.5" r="4.1"/>
<circle cx="336.1" cy="154.9" r="4.1"/>
<circle cx="365.3" cy="146.0" r="4.1"/>
<circle cx="335.1" cy="146.8" r="4.1"/>
<circle cx="401.2" cy="185.2" r="4.1"/>
<circle cx="338.8" cy="188.2" r="4.1"/>
<circle cx="338.8" cy="181.1" r="4.1"/>
<circle cx="345.6" cy="182.9" r="4.1"/>
<circle cx="250.1" cy="160.3" r="4.1"/>
<circle cx="333.9" cy="145.4" r="4.1"/>
<circle cx="367.2" cy="189.6" r="4.1"/>
<circle cx="257.4" cy="173.4" r="4.1"/>
<circle cx="407.2" cy="187.5" r="4.1"/>
<circle cx="346.5" cy="181.3" r="4.1"/>
<circle cx="306.0" cy="200.2" r="4.1"/>
<circle cx="332.6" cy="146.9" r="4.1"/>
<circle cx="363.2" cy="191.5" r="4.1"/>
<circle cx="375.2" cy="190.6" r="4.1"/>
<circle cx="368.4" cy="147.9" r="4.1"/>
<circle cx="228.0" cy="171.3" r="4.1"/>
<circle cx="361.7" cy="180.9" r="4.1"/>
<circle cx="266.2" cy="204.3" r="4.1"/>
<circle cx="455.7" cy="172.4" r="4.1"/>
<circle cx="313.0" cy="160.2" r="4.1"/>
<circle cx="301.7" cy="142.5" r="4.1"/>
<circle cx="238.4" cy="163.2" r="4.1"/>
<circle cx="258.4" cy="147.5" r="4.1"/>
<circle cx="404.7" cy="160.0" r="4.1"/>
<circle cx="279.4" cy="191.6" r="4.1"/>
<circle cx="303.9" cy="180.2" r="4.1"/>
<circle cx="325.8" cy="145.5" r="4.1"/>
<circle cx="328.1" cy="172.1" r="4.1"/>
<circle cx="330.8" cy="173.9" r="4.1"/>
<circle cx="305.7" cy="147.0" r="4.1"/>
<circle cx="378.0" cy="186.2" r="4.1"/>
<circle cx="330.6" cy="153.2" r="4.1"/>
<circle cx="413.9" cy="162.8" r="4.1"/>
<circle cx="429.0" cy="176.6" r="4.1"/>
<circle cx="284.3" cy="197.5" r="4.1"/>
<circle cx="374.3" cy="199.6" r="4.1"/>
<circle cx="283.5" cy="202.7" r="4.1"/>
<circle cx="412.7" cy="156.7" r="4.1"/>
<circle cx="352.4" cy="157.4" r="4.1"/>
<circle cx="304.7" cy="167.3" r="4.1"/>
<circle cx="295.9" cy="198.1" r="4.1"/>
<circle cx="288.7" cy="167.6" r="4.1"/>
<circle cx="315.2" cy="147.5" r="4.1"/>
<circle cx="296.2" cy="176.5" r="4.1"/>
<circle cx="303.8" cy="146.7" r="4.1"/>
<circle cx="402.5" cy="195.5" r="4.1"/>
<circle cx="275.7" cy="166.3" r="4.1"/>
<circle cx="391.7" cy="160.8" r="4.1"/>
<circle cx="311.7" cy="167.2" r="4.1"/>
<circle cx="327.8" cy="161.9" r="4.1"/>
<circle cx="262.9" cy="193.6" r="4.1"/>
<circle cx="329.0" cy="204.4" r="4.1"/>
<circle cx="257.3" cy="174.2" r="4.1"/>
<circle cx="386.4" cy="198.5" r="4.1"/>
<circle cx="317.9" cy="168.8" r="4.1"/>
<circle cx="283.1" cy="186.4" r="4.1"/>
<circle cx="301.8" cy="188.5" r="4.1"/>
<circle cx="307.7" cy="186.5" r="4.1"/>
<circle cx="405.3" cy="171.0" r="4.1"/>
<circle cx="365.1" cy="145.3" r="4.1"/>
<circle cx="343.0" cy="196.2" r="4.1"/>
<circle cx="334.4" cy="144.4" r="4.1"/>
<circle cx="383.2" cy="157.9" r="4.1"/>
<circle cx="377.7" cy="176.0" r="4.1"/>
<circle cx="327.1" cy="179.3" r="4.1"/>
<circle cx="369.8" cy="200.7" r="4.1"/>
<circle cx="332.5" cy="149.9" r="4.1"/>
<circle cx="353.5" cy="170.3" r="4.1"/>
<circle cx="345.7" cy="146.2" r="4.1"/>
<circle cx="364.6" cy="144.4" r="4.1"/>
<circle cx="207.2" cy="178.7" r="4.1"/>
<circle cx="305.2" cy="198.5" r="4.1"/>
<circle cx="303.9" cy="213.5" r="4.1"/>
<circle cx="353.0" cy="163.6" r="4.1"/>
<circle cx="302.9" cy="163.2" r="4.1"/>
<circle cx="211.1" cy="169.9" r="4.1"/>
<circle cx="385.9" cy="155.5" r="4.1"/>
<circle cx="303.5" cy="199.3" r="4.1"/>
<circle cx="246.3" cy="177.9" r="4.1"/>
<circle cx="318.9" cy="150.1" r="4.1"/>
<circle cx="294.8" cy="148.0" r="4.1"/>
<circle cx="289.0" cy="191.2" r="4.1"/>
<circle cx="333.7" cy="173.7" r="4.1"/>
<circle cx="316.0" cy="174.8" r="4.1"/>
<circle cx="316.2" cy="175.5" r="4.1"/>
<circle cx="258.5" cy="184.5" r="4.1"/>
<circle cx="369.9" cy="197.2" r="4.1"/>
<circle cx="303.2" cy="199.4" r="4.1"/>
<circle cx="240.7" cy="166.9" r="4.1"/>
<circle cx="255.0" cy="151.9" r="4.1"/>
<circle cx="268.4" cy="147.1" r="4.1"/>
<circle cx="387.6" cy="184.9" r="4.1"/>
<circle cx="295.4" cy="193.4" r="4.1"/>
<circle cx="297.0" cy="197.6" r="4.1"/>
<circle cx="355.6" cy="164.2" r="4.1"/>
<circle cx="298.5" cy="186.0" r="4.1"/>
<circle cx="307.5" cy="179.0" r="4.1"/>
<circle cx="381.1" cy="171.3" r="4.1"/>
<circle cx="430.6" cy="167.5" r="4.1"/>
<circle cx="373.9" cy="203.2" r="4.1"/>
<circle cx="404.8" cy="157.1" r="4.1"/>
<circle cx="298.0" cy="196.9" r="4.1"/>
<circle cx="288.7" cy="202.0" r="4.1"/>
<circle cx="279.6" cy="167.3" r="4.1"/>
<circle cx="396.8" cy="163.0" r="4.1"/>
<circle cx="349.1" cy="171.6" r="4.1"/>
<circle cx="329.1" cy="200.4" r="4.1"/>
<circle cx="284.9" cy="148.5" r="4.1"/>
<circle cx="344.3" cy="187.2" r="4.1"/>
<circle cx="361.0" cy="182.9" r="4.1"/>
<circle cx="409.9" cy="161.0" r="4.1"/>
<circle cx="265.8" cy="174.3" r="4.1"/>
<circle cx="330.9" cy="197.7" r="4.1"/>
<circle cx="368.4" cy="204.6" r="4.1"/>
<circle cx="325.1" cy="199.7" r="4.1"/>
<circle cx="406.6" cy="179.2" r="4.1"/>
<circle cx="312.8" cy="170.9" r="4.1"/>
<circle cx="352.9" cy="177.5" r="4.1"/>
<circle cx="334.0" cy="188.6" r="4.1"/>
<circle cx="398.8" cy="151.5" r="4.1"/>
<circle cx="444.7" cy="184.2" r="4.1"/>
<circle cx="391.3" cy="154.7" r="4.1"/>
<circle cx="386.2" cy="154.0" r="4.1"/>
<circle cx="349.6" cy="168.5" r="4.1"/>
<circle cx="291.5" cy="165.7" r="4.1"/>
<circle cx="330.3" cy="166.6" r="4.1"/>
<circle cx="275.7" cy="173.7" r="4.1"/>
<circle cx="401.8" cy="158.3" r="4.1"/>
<circle cx="250.7" cy="197.9" r="4.1"/>
<circle cx="291.1" cy="176.5" r="4.1"/>
<circle cx="329.9" cy="189.3" r="4.1"/>
<circle cx="346.3" cy="190.7" r="4.1"/>
<circle cx="391.7" cy="149.5" r="4.1"/>
<circle cx="351.3" cy="173.6" r="4.1"/>
<circle cx="366.6" cy="165.6" r="4.1"/>
<circle cx="342.7" cy="165.5" r="4.1"/>
<circle cx="367.5" cy="178.2" r="4.1"/>
<circle cx="274.4" cy="181.2" r="4.1"/>
<circle cx="373.1" cy="186.8" r="4.1"/>
<circle cx="264.0" cy="200.6" r="4.1"/>
<circle cx="267.7" cy="186.2" r="4.1"/>
<circle cx="304.7" cy="176.8" r="4.1"/>
<circle cx="226.8" cy="181.8" r="4.1"/>
<circle cx="389.3" cy="170.5" r="4.1"/>
<circle cx="368.8" cy="178.6" r="4.1"/>
<circle cx="393.2" cy="189.5" r="4.1"/>
<circle cx="301.0" cy="142.3" r="4.1"/>
<circle cx="292.0" cy="154.6" r="4.1"/>
<circle cx="309.6" cy="192.0" r="4.1"/>
<circle cx="276.8" cy="171.0" r="4.1"/>
<circle cx="370.8" cy="183.8" r="4.1"/>
<circle cx="393.9" cy="186.6" r="4.1"/>
<circle cx="348.3" cy="159.2" r="4.1"/>
<circle cx="324.3" cy="168.8" r="4.1"/>
<circle cx="352.5" cy="151.7" r="4.1"/>
<circle cx="364.7" cy="192.4" r="4.1"/>
<circle cx="342.3" cy="176.8" r="4.1"/>
<circle cx="296.3" cy="159.5" r="4.1"/>
<circle cx="398.5" cy="151.7" r="4.1"/>
<circle cx="361.9" cy="145.1" r="4.1"/>
<circle cx="304.6" cy="168.5" r="4.1"/>
<circle cx="332.6" cy="165.2" r="4.1"/>
<circle cx="243.7" cy="166.6" r="4.1"/>
<circle cx="331.9" cy="181.3" r="4.1"/>
<circle cx="348.9" cy="140.0" r="4.1"/>
<circle cx="286.9" cy="148.0" r="4.1"/>
<circle cx="292.6" cy="208.9" r="4.1"/>
<circle cx="377.9" cy="175.8" r="4.1"/>
<circle cx="281.1" cy="207.3" r="4.1"/>
<circle cx="415.2" cy="154.9" r="4.1"/>
<circle cx="349.9" cy="170.7" r="4.1"/>
<circle cx="325.6" cy="163.0" r="4.1"/>
<circle cx="406.4" cy="154.8" r="4.1"/>
<circle cx="389.8" cy="179.2" r="4.1"/>
<circle cx="291.1" cy="188.7" r="4.1"/>
<circle cx="383.1" cy="145.7" r="4.1"/>
<circle cx="325.6" cy="194.3" r="4.1"/>
<circle cx="363.5" cy="176.7" r="4.1"/>
<circle cx="269.3" cy="175.9" r="4.1"/>
<circle cx="392.1" cy="150.5" r="4.1"/>
<circle cx="330.8" cy="173.7" r="4.1"/>
<circle cx="397.8" cy="169.4" r="4.1"/>
<circle cx="256.2" cy="147.5" r="4.1"/>
<circle cx="209.1" cy="175.8" r="4.1"/>
<circle cx="374.1" cy="175.3" r="4.1"/>
<circle cx="257.5" cy="170.7" r="4.1"/>
<circle cx="306.8" cy="153.2" r="4.1"/>
<circle cx="311.2" cy="145.0" r="4.1"/>
<circle cx="330.2" cy="151.4" r="4.1"/>
<circle cx="317.7" cy="175.0" r="4.1"/>
<circle cx="351.2" cy="203.1" r="4.1"/>
<circle cx="331.0" cy="176.1" r="4.1"/>
<circle cx="275.3" cy="178.7" r="4.1"/>
<circle cx="308.2" cy="163.4" r="4.1"/>
<circle cx="383.6" cy="143.4" r="4.1"/>
<circle cx="301.7" cy="166.7" r="4.1"/>
<circle cx="400.0" cy="169.5" r="4.1"/>
<circle cx="403.6" cy="181.8" r="4.1"/>
<circle cx="267.1" cy="188.7" r="4.1"/>
<circle cx="359.4" cy="170.7" r="4.1"/>
<circle cx="279.8" cy="191.1" r="4.1"/>
<circle cx="281.9" cy="162.9" r="4.1"/>
<circle cx="336.7" cy="170.1" r="4.1"/>
<circle cx="448.9" cy="186.3" r="4.1"/>
<circle cx="393.1" cy="196.9" r="4.1"/>
<circle cx="242.2" cy="176.3" r="4.1"/>
<circle cx="275.1" cy="174.3" r="4.1"/>
<circle cx="392.2" cy="157.2" r="4.1"/>
<circle cx="326.3" cy="178.8" r="4.1"/>
<circle cx="399.6" cy="185.7" r="4.1"/>
<circle cx="298.3" cy="167.6" r="4.1"/>
<circle cx="393.2" cy="153.9" r="4.1"/>
<circle cx="344.7" cy="198.8" r="4.1"/>
<circle cx="278.5" cy="152.4" r="4.1"/>
<circle cx="290.7" cy="151.9" r="4.1"/>
<circle cx="215.6" cy="173.2" r="4.1"/>
<circle cx="261.4" cy="161.8" r="4.1"/>
<circle cx="257.4" cy="176.6" r="4.1"/>
<circle cx="367.9" cy="187.8" r="4.1"/>
<circle cx="346.9" cy="183.7" r="4.1"/>
<circle cx="269.2" cy="188.2" r="4.1"/>
<circle cx="347.2" cy="194.3" r="4.1"/>
<circle cx="379.9" cy="199.3" r="4.1"/>
<circle cx="334.7" cy="187.2" r="4.1"/>
<circle cx="341.4" cy="174.3" r="4.1"/>
<circle cx="456.1" cy="177.4" r="4.1"/>
<circle cx="322.8" cy="150.1" r="4.1"/>
<circle cx="306.0" cy="159.3" r="4.1"/>
<circle cx="300.2" cy="203.8" r="4.1"/>
<circle cx="267.7" cy="196.8" r="4.1"/>
<circle cx="279.0" cy="171.6" r="4.1"/>
<circle cx="297.4" cy="190.0" r="4.1"/>
<circle cx="346.4" cy="185.3" r="4.1"/>
<circle cx="371.0" cy="142.9" r="4.1"/>
<circle cx="268.3" cy="182.3" r="4.1"/>
<circle cx="334.0" cy="173.6" r="4.1"/>
<circle cx="277.0" cy="203.0" r="4.1"/>
<circle cx="250.3" cy="191.7" r="4.1"/>
<circle cx="368.1" cy="168.9" r="4.1"/>
<circle cx="338.1" cy="192.5" r="4.1"/>
<circle cx="331.4" cy="146.3" r="4.1"/>
<circle cx="309.0" cy="155.5" r="4.1"/>
<circle cx="368.6" cy="164.7" r="4.1"/>
<circle cx="280.0" cy="175.6" r="4.1"/>
<circle cx="447.0" cy="178.4" r="4.1"/>
<circle cx="425.5" cy="195.9" r="4.1"/>
<circle cx="345.3" cy="152.0" r="4.1"/>
<circle cx="358.1" cy="170.6" r="4.1"/>
<circle cx="297.5" cy="197.9" r="4.1"/>
<circle cx="255.0" cy="189.1" r="4.1"/>
<circle cx="353.8" cy="151.3" r="4.1"/>
<circle cx="353.0" cy="177.0" r="4.1"/>
</g>
<g fill="#008000" fill-opacity="0.8" stroke="#008000" stroke-opacity="0.8" stroke-width="1">
<circle cx="179.1" cy="116.3" r="4.1"/>
<circle cx="174" cy="137.4" r="4.1"/>
<circle cx="178.5" cy="138.8" r="4.1"/>
<circle cx="181.1" cy="143.7" r="4.1"/>
<circle cx="146.3" cy="145.3" r="4.1"/>
<circle cx="206.0" cy="130.8" r="4.1"/>
<circle cx="192.5" cy="149.7" r="4.1"/>
<circle cx="194" cy="154.7" r="4.1"/>
<circle cx="174.6" cy="155.3" r="4.1"/>
<circle cx="149.7" cy="160.6" r="4.1"/>
<circle cx="144.7" cy="165.6" r="4.1"/>
<circle cx="166.6" cy="158.7" r="4.1"/>
<circle cx="163.6" cy="164.6" r="4.1"/>
<circle cx="184.5" cy="162.6" r="4.1"/>
<circle cx="197.4" cy="159.7" r="4.1"/>
<circle cx="205.2" cy="146.2" r="4.1"/>
<circle cx="206.7" cy="114.3" r="4.1"/>
<circle cx="167.6" cy="171" r="4.1"/>
<circle cx="151.7" cy="174" r="4.1"/>
<circle cx="141.7" cy="176.5" r="4.1"/>
<circle cx="139.7" cy="185.5" r="4.1"/>
<circle cx="152.7" cy="188.5" r="4.1"/>
<circle cx="156.2" cy="191.3" r="4.1"/>
<circle cx="173.6" cy="182.9" r="4.1"/>
<circle cx="178.1" cy="178.5" r="4.1"/>
<circle cx="184.5" cy="184.9" r="4.1"/>
<circle cx="196.4" cy="170" r="4.1"/>
<circle cx="202.4" cy="175" r="4.1"/>
<circle cx="202.4" cy="181" r="4.1"/>
<circle cx="204.2" cy="188.4" r="4.1"/>
<circle cx="179.1" cy="193.9" r="4.1"/>
<circle cx="186.5" cy="196.8" r="4.1"/>
<circle cx="190.1" cy="191.9" r="4.1"/>
<circle cx="181.9" cy="201.8" r="4.1"/>
<circle cx="153.7" cy="205.8" r="4.1"/>
<circle cx="164.6" cy="209.8" r="4.1"/>
<circle cx="178.1" cy="215.7" r="4.1"/>
<circle cx="88" cy="218.7" r="4.1"/>
<circle cx="224.9" cy="111.5" r="4.1"/>
<circle cx="233.8" cy="117.9" r="4.1"/>
<circle cx="312.4" cy="111.9" r="4.1"/>
<circle cx="269.7" cy="118.9" r="4.1"/>
<circle cx="278.6" cy="120.8" r="4.1"/>
<circle cx="209" cy="125.4" r="4.1"/>
<circle cx="220.9" cy="132.2" r="4.1"/>
<circle cx="238.8" cy="126.8" r="4.1"/>
<circle cx="246.8" cy="128.8" r="4.1"/>
<circle cx="255.7" cy="126.8" r="4.1"/>
<circle cx="261.7" cy="123.8" r="4.1"/>
<circle cx="265.7" cy="126.8" r="4.1"/>
<circle cx="271.6" cy="128.8" r="4.1"/>
<circle cx="279.6" cy="129.8" r="4.1"/>
<circle cx="286.6" cy="126.8" r="4.1"/>
<circle cx="293.5" cy="126.8" r="4.1"/>
<circle cx="293.5" cy="132.8" r="4.1"/>
<circle cx="310.4" cy="122.8" r="4.1"/>
<circle cx="321.0" cy="121.8" r="4.1"/>
<circle cx="309.5" cy="129.8" r="4.1"/>
<circle cx="260.7" cy="132.8" r="4.1"/>
<circle cx="247.8" cy="135.8" r="4.1"/>
<circle cx="252.7" cy="136.8" r="4.1"/>
<circle cx="211" cy="140.7" r="4.1"/>
<circle cx="225.9" cy="141.7" r="4.1"/>
<circle cx="240.8" cy="143.7" r="4.1"/>
<circle cx="246.8" cy="142.7" r="4.1"/>
<circle cx="231.8" cy="148.7" r="4.1"/>
<circle cx="219.9" cy="147.7" r="4.1"/>
<circle cx="290.5" cy="138.8" r="4.1"/>
<circle cx="301.5" cy="138.8" r="4.1"/>
<circle cx="280.6" cy="140.7" r="4.1"/>
<circle cx="210.9" cy="199.4" r="4.1"/>
<circle cx="223.9" cy="197.8" r="4.1"/>
<circle cx="216.9" cy="191.8" r="4.1"/>
<circle cx="231.8" cy="191.8" r="4.1"/>
<circle cx="233.8" cy="202.8" r="4.1"/>
<circle cx="234.8" cy="206.8" r="4.1"/>
<circle cx="241.4" cy="210.7" r="4.1"/>
<circle cx="221.1" cy="220.4" r="4.1"/>
<circle cx="239.8" cy="222.1" r="4.1"/>
<circle cx="249.8" cy="234.6" r="4.1"/>
<circle cx="245.8" cy="194.8" r="4.1"/>
<circle cx="255.7" cy="207.8" r="4.1"/>
<circle cx="257.7" cy="215.7" r="4.1"/>
<circle cx="257.7" cy="223.3" r="4.1"/>
<circle cx="263.7" cy="206.8" r="4.1"/>
<circle cx="265.7" cy="213.3" r="4.1"/>
<circle cx="273.2" cy="219.3" r="4.1"/>
<circle cx="281.6" cy="217.7" r="4.1"/>
<circle cx="293.5" cy="225.7" r="4.1"/>
<circle cx="302.5" cy="230.6" r="4.1"/>
<circle cx="307.8" cy="224.4" r="4.1"/>
<circle cx="313.7" cy="225.2" r="4.1"/>
<circle cx="293.5" cy="211.7" r="4.1"/>
<circle cx="274.6" cy="207.8" r="4.1"/>
<circle cx="350.8" cy="98.5" r="4.1"/>
<circle cx="356.4" cy="105.5" r="4.1"/>
<circle cx="375.3" cy="106.9" r="4.1"/>
<circle cx="344.5" cy="123.4" r="4.1"/>
<circle cx="353.8" cy="122.8" r="4.1"/>
<circle cx="364.4" cy="124.8" r="4.1"/>
<circle cx="372.7" cy="121.8" r="4.1"/>
<circle cx="383.7" cy="119.2" r="4.1"/>
<circle cx="386.2" cy="123.2" r="4.1"/>
<circle cx="400.2" cy="120.8" r="4.1"/>
<circle cx="394.6" cy="127.2" r="4.1"/>
<circle cx="378.3" cy="128.8" r="4.1"/>
<circle cx="406.5" cy="128.8" r="4.1"/>
<circle cx="412.1" cy="129.8" r="4.1"/>
<circle cx="426" cy="118.8" r="4.1"/>
<circle cx="430" cy="118.8" r="4.1"/>
<circle cx="338.9" cy="131.8" r="4.1"/>
<circle cx="329.9" cy="133.8" r="4.1"/>
<circle cx="345.8" cy="135.1" r="4.1"/>
<circle cx="319" cy="132.8" r="4.1"/>
<circle cx="368.7" cy="132.8" r="4.1"/>
<circle cx="399.6" cy="135.7" r="4.1"/>
<circle cx="406.5" cy="138.7" r="4.1"/>
<circle cx="419.5" cy="134.8" r="4.1"/>
<circle cx="427.4" cy="137.7" r="4.1"/>
<circle cx="417.5" cy="139.7" r="4.1"/>
<circle cx="396.6" cy="145.7" r="4.1"/>
<circle cx="409.5" cy="144.7" r="4.1"/>
<circle cx="424.5" cy="150.7" r="4.1"/>
<circle cx="432.2" cy="150.2" r="4.1"/>
<circle cx="404.6" cy="153.7" r="4.1"/>
<circle cx="430.4" cy="160.6" r="4.1"/>
<circle cx="446.9" cy="126.4" r="4.1"/>
<circle cx="446.9" cy="130.4" r="4.1"/>
<circle cx="465.8" cy="128.8" r="4.1"/>
<circle cx="484.7" cy="126.4" r="4.1"/>
<circle cx="494.1" cy="123.4" r="4.1"/>
<circle cx="443.9" cy="137.1" r="4.1"/>
<circle cx="469.4" cy="139.1" r="4.1"/>
<circle cx="490.9" cy="143.6" r="4.1"/>
<circle cx="439" cy="144.7" r="4.1"/>
<circle cx="448.9" cy="148.7" r="4.1"/>
<circle cx="459.5" cy="148.3" r="4.1"/>
<circle cx="464.8" cy="147.3" r="4.1"/>
<circle cx="449.9" cy="152.7" r="4.1"/>
<circle cx="441.9" cy="156.6" r="4.1"/>
<circle cx="449.9" cy="159.6" r="4.1"/>
<circle cx="493.3" cy="158.2" r="4.1"/>
<circle cx="483.7" cy="166.3" r="4.1"/>
<circle cx="464.0" cy="166.5" r="4.1"/>
<circle cx="556.3" cy="131.5" r="4.1"/>
<circle cx="576" cy="153.9" r="4.1"/>
<circle cx="526.9" cy="176.6" r="4.1"/>
<circle cx="522.3" cy="186.7" r="4.1"/>
<circle cx="523.2" cy="195.9" r="4.1"/>
<circle cx="494.1" cy="177.1" r="4.1"/>
<circle cx="497.6" cy="181.8" r="4.1"/>
<circle cx="490.6" cy="192.9" r="4.1"/>
<circle cx="488.6" cy="202.9" r="4.1"/>
<circle cx="453.9" cy="169" r="4.1"/>
<circle cx="473.8" cy="172.9" r="4.1"/>
<circle cx="471.8" cy="175.9" r="4.1"/>
<circle cx="461.8" cy="175.5" r="4.1"/>
<circle cx="482.1" cy="184.9" r="4.1"/>
<circle cx="465.8" cy="189.5" r="4.1"/>
<circle cx="455.5" cy="182.9" r="4.1"/>
<circle cx="484.7" cy="192.8" r="4.1"/>
<circle cx="481.3" cy="201.4" r="4.1"/>
<circle cx="455.9" cy="190.8" r="4.1"/>
<circle cx="453.9" cy="195.8" r="4.1"/>
<circle cx="435.6" cy="190.8" r="4.1"/>
<circle cx="435.6" cy="193.8" r="4.1"/>
<circle cx="430.7" cy="201.3" r="4.1"/>
<circle cx="449.9" cy="203.8" r="4.1"/>
<circle cx="454.9" cy="206.2" r="4.1"/>
<circle cx="440.9" cy="207.8" r="4.1"/>
<circle cx="433" cy="218.7" r="4.1"/>
<circle cx="443.9" cy="221.3" r="4.1"/>
<circle cx="449.9" cy="225.7" r="4.1"/>
<circle cx="450.9" cy="227.7" r="4.1"/>
<circle cx="473.8" cy="222.1" r="4.1"/>
<circle cx="430" cy="211.7" r="4.1"/>
<circle cx="324" cy="234" r="4.1"/>
<circle cx="357.8" cy="232" r="4.1"/>
<circle cx="360.1" cy="240.4" r="4.1"/>
<circle cx="384.7" cy="224.7" r="4.1"/>
<circle cx="384.7" cy="231.2" r="4.1"/>
<circle cx="393.6" cy="230.6" r="4.1"/>
<circle cx="395.6" cy="236.6" r="4.1"/>
<circle cx="404.6" cy="229.3" r="4.1"/>
<circle cx="419.5" cy="222.1" r="4.1"/>
<circle cx="335.1" cy="220.6" r="4.1"/>
<circle cx="344.9" cy="223.3" r="4.1"/>
<circle cx="317" cy="215.7" r="4.1"/>
<circle cx="359.8" cy="217.7" r="4.1"/>
<circle cx="364.2" cy="222.7" r="4.1"/>
<circle cx="367.1" cy="221.7" r="4.1"/>
<circle cx="387.6" cy="211.7" r="4.1"/>
<circle cx="387" cy="216.7" r="4.1"/>
<circle cx="402.6" cy="211.3" r="4.1"/>
<circle cx="408.5" cy="207.8" r="4.1"/>
<circle cx="410.5" cy="213.7" r="4.1"/>
<circle cx="418.5" cy="206.8" r="4.1"/>
<circle cx="425.4" cy="211.3" r="4.1"/>
<circle cx="366.3" cy="201.8" r="4.1"/>
<circle cx="406.5" cy="195.8" r="4.1"/>
<circle cx="401.6" cy="189.9" r="4.1"/>
<circle cx="377.2" cy="295.4" r="4.1"/>
<circle cx="211" cy="141.5" r="4.1"/>
<circle cx="225.6" cy="141.5" r="4.1"/>
<circle cx="207" cy="147.1" r="4.1"/>
<circle cx="219.9" cy="147.1" r="4.1"/>
<circle cx="232.1" cy="148" r="4.1"/>
<circle cx="241.8" cy="143.9" r="4.1"/>
<circle cx="246.6" cy="137.4" r="4.1"/>
<circle cx="220.7" cy="135" r="4.1"/>
<circle cx="193.2" cy="150.4" r="4.1"/>
<circle cx="194.9" cy="155.2" r="4.1"/>
<circle cx="206.2" cy="156.8" r="4.1"/>
<circle cx="201.3" cy="160.1" r="4.1"/>
<circle cx="205.4" cy="163.3" r="4.1"/>
<circle cx="219.1" cy="159.3" r="4.1"/>
<circle cx="217.5" cy="164.9" r="4.1"/>
<circle cx="228.8" cy="155.2" r="4.1"/>
<circle cx="233.7" cy="159.3" r="4.1"/>
<circle cx="238.5" cy="156" r="4.1"/>
<circle cx="243.4" cy="161.7" r="4.1"/>
<circle cx="196.5" cy="169.8" r="4.1"/>
<circle cx="202.9" cy="171.4" r="4.1"/>
<circle cx="214.3" cy="169" r="4.1"/>
<circle cx="202.9" cy="177.1" r="4.1"/>
<circle cx="209.4" cy="180.3" r="4.1"/>
<circle cx="204.6" cy="188.4" r="4.1"/>
<circle cx="215.9" cy="178.7" r="4.1"/>
<circle cx="219.1" cy="185.2" r="4.1"/>
<circle cx="217.5" cy="191.6" r="4.1"/>
<circle cx="224.8" cy="193.3" r="4.1"/>
<circle cx="232.1" cy="191.6" r="4.1"/>
<circle cx="228.8" cy="186" r="4.1"/>
<circle cx="225.6" cy="175.5" r="4.1"/>
<circle cx="232.1" cy="173.8" r="4.1"/>
<circle cx="238.5" cy="178.7" r="4.1"/>
<circle cx="235.3" cy="167.4" r="4.1"/>
<circle cx="243.4" cy="172.2" r="4.1"/>
<circle cx="245" cy="183.5" r="4.1"/>
<circle cx="191.6" cy="191.6" r="4.1"/>
<circle cx="211" cy="197.3" r="4.1"/>
<circle cx="245.8" cy="194.9" r="4.1"/>
<circle cx="246.6" cy="144.7" r="4.1"/>
<circle cx="240" cy="126.2" r="4.1"/>
<circle cx="279.3" cy="138.7" r="4.1"/>
<circle cx="357.9" cy="129.3" r="4.1"/>
<circle cx="365.8" cy="134" r="4.1"/>
<circle cx="313.9" cy="137.2" r="4.1"/>
<circle cx="320.2" cy="141.9" r="4.1"/>
<circle cx="216.3" cy="162.4" r="4.1"/>
<circle cx="232.3" cy="157.1" r="4.1"/>
<circle cx="205.0" cy="161.8" r="4.1"/>
<circle cx="204.4" cy="172.2" r="4.1"/>
<circle cx="215.7" cy="156.4" r="4.1"/>
<circle cx="223.3" cy="147.4" r="4.1"/>
<circle cx="204.1" cy="170.8" r="4.1"/>
<circle cx="212.1" cy="151.7" r="4.1"/>
<circle cx="201.0" cy="157.7" r="4.1"/>
<circle cx="219.6" cy="161.5" r="4.1"/>
<circle cx="205.0" cy="167.7" r="4.1"/>
<circle cx="201.7" cy="166.9" r="4.1"/>
<circle cx="203.2" cy="183.2" r="4.1"/>
<circle cx="207.1" cy="157.8" r="4.1"/>
<circle cx="219.6" cy="160.0" r="4.1"/>
<circle cx="236.7" cy="154.3" r="4.1"/>
<circle cx="222.7" cy="148.9" r="4.1"/>
<circle cx="212.0" cy="163.2" r="4.1"/>
<circle cx="233.9" cy="152.3" r="4.1"/>
<circle cx="237.7" cy="151.4" r="4.1"/>
</g>
<line x1="87" y1="172" x2="577" y2="172" stroke="#008000" stroke-width="2.6"/>
</g>
<path d="M87.1,88.8 V305.4 H577" fill="none" stroke="#000" stroke-width="1.25"/>
<line x1="82.6" y1="112.8" x2="87.1" y2="112.8" stroke="#000" stroke-width="1.25"/>
<text x="77" y="117.1" text-anchor="end" class="tl" font-size="12" textLength="27.2" lengthAdjust="spacingAndGlyphs">1.00</text>
<line x1="82.6" y1="142.4" x2="87.1" y2="142.4" stroke="#000" stroke-width="1.25"/>
<text x="77" y="146.7" text-anchor="end" class="tl" font-size="12" textLength="27.0" lengthAdjust="spacingAndGlyphs">0.75</text>
<line x1="82.6" y1="172.0" x2="87.1" y2="172.0" stroke="#000" stroke-width="1.25"/>
<text x="77" y="176.3" text-anchor="end" class="tl" font-size="12" textLength="27.0" lengthAdjust="spacingAndGlyphs">0.50</text>
<line x1="82.6" y1="201.6" x2="87.1" y2="201.6" stroke="#000" stroke-width="1.25"/>
<text x="77" y="205.9" text-anchor="end" class="tl" font-size="12" textLength="27.0" lengthAdjust="spacingAndGlyphs">0.25</text>
<line x1="82.6" y1="231.2" x2="87.1" y2="231.2" stroke="#000" stroke-width="1.25"/>
<text x="77" y="235.5" text-anchor="end" class="tl" font-size="12" textLength="27.0" lengthAdjust="spacingAndGlyphs">0.00</text>
<line x1="82.6" y1="260.8" x2="87.1" y2="260.8" stroke="#000" stroke-width="1.25"/>
<text x="76.3" y="265.1" text-anchor="end" class="tl" font-size="12" textLength="37.2" lengthAdjust="spacingAndGlyphs">−0.25</text>
<line x1="82.6" y1="290.4" x2="87.1" y2="290.4" stroke="#000" stroke-width="1.25"/>
<text x="76.3" y="294.7" text-anchor="end" class="tl" font-size="12" textLength="37.2" lengthAdjust="spacingAndGlyphs">−0.50</text>
<line x1="105.8" y1="305.4" x2="105.8" y2="309.9" stroke="#000" stroke-width="1.25"/>
<text x="104.3" y="323.5" text-anchor="middle" class="tl" font-size="12" textLength="18.2" lengthAdjust="spacingAndGlyphs">−3</text>
<line x1="179.9" y1="305.4" x2="179.9" y2="309.9" stroke="#000" stroke-width="1.25"/>
<text x="178.4" y="323.5" text-anchor="middle" class="tl" font-size="12" textLength="18.2" lengthAdjust="spacingAndGlyphs">−2</text>
<line x1="254.0" y1="305.4" x2="254.0" y2="309.9" stroke="#000" stroke-width="1.25"/>
<text x="252.5" y="323.5" text-anchor="middle" class="tl" font-size="12" textLength="18.2" lengthAdjust="spacingAndGlyphs">−1</text>
<line x1="328.1" y1="305.4" x2="328.1" y2="309.9" stroke="#000" stroke-width="1.25"/>
<text x="328.1" y="323.5" text-anchor="middle" class="tl" font-size="12" textLength="7.4" lengthAdjust="spacingAndGlyphs">0</text>
<line x1="402.2" y1="305.4" x2="402.2" y2="309.9" stroke="#000" stroke-width="1.25"/>
<text x="402.2" y="323.5" text-anchor="middle" class="tl" font-size="12" textLength="7.4" lengthAdjust="spacingAndGlyphs">1</text>
<line x1="476.3" y1="305.4" x2="476.3" y2="309.9" stroke="#000" stroke-width="1.25"/>
<text x="476.3" y="323.5" text-anchor="middle" class="tl" font-size="12" textLength="7.4" lengthAdjust="spacingAndGlyphs">2</text>
<line x1="550.4" y1="305.4" x2="550.4" y2="309.9" stroke="#000" stroke-width="1.25"/>
<text x="550.4" y="323.5" text-anchor="middle" class="tl" font-size="12" textLength="7.4" lengthAdjust="spacingAndGlyphs">3</text>
<text x="332" y="341.5" text-anchor="middle" font-size="12">x</text>
<text transform="translate(30,197.8) rotate(-90)" text-anchor="middle" font-size="13">y</text>
</svg>

<svg class="abs" style="left:0;top:0" width="700" height="402" viewBox="0 0 700 402">
<!-- home -->
<path d="M13.8,379.2 L22.8,371.3 L26.6,374.6 L26.6,371.3 L29.4,371.3 L29.4,377.1 L31.9,379.2 L30.4,380.7 L22.8,374 L15.3,380.7Z" fill="#000"/>
<path d="M16,380.2 L22.8,374.3 L29.8,380.2 L29.8,385.6 L24.8,385.6 L24.8,380.5 L20.6,380.5 L20.6,385.6 L16,385.6Z" fill="#000"/>
<!-- back -->
<path d="M42.2,376.4 L50.7,367.8 L54,371.1 L49,375.2 L59,374.4 L59,378.6 L49,378 L54,381.9 L50.7,385.4Z" fill="#808080"/>
<!-- forward -->
<path d="M85.6,376.4 L77.1,367.8 L73.8,371.1 L78.8,375.2 L68.6,374.4 L68.6,378.6 L78.8,378 L73.8,381.9 L77.1,385.4Z" fill="#808080"/>
<!-- move -->
<path d="M115.9,366.7 L119.8,370.9 L117.4,370.9 L117.4,375.5 L122,375.5 L122,373.1 L126.1,377 L122,380.9 L122,378.5 L117.4,378.5 L117.4,383.1 L119.8,383.1 L115.9,387.3 L112,383.1 L114.4,383.1 L114.4,378.5 L109.8,378.5 L109.8,380.9 L105.6,377 L109.8,373.1 L109.8,375.5 L114.4,375.5 L114.4,370.9 L112,370.9Z" fill="#000"/>
<!-- zoom -->
<circle cx="143.4" cy="374.9" r="6.4" fill="none" stroke="#000" stroke-width="3"/>
<path d="M148.5,380.5 L153.6,385" stroke="#000" stroke-width="3" stroke-linecap="round"/>
<!-- configure -->
<g stroke="#111" stroke-width="1.5"><line x1="164.5" y1="371.5" x2="182" y2="371.5"/><line x1="164.5" y1="377.2" x2="182" y2="377.2"/><line x1="164.5" y1="383" x2="182" y2="383"/></g>
<rect x="168" y="369.5" width="3.6" height="4.2" rx="0.8" fill="#000"/><rect x="175" y="375.1" width="3.6" height="4.2" rx="0.8" fill="#000"/><rect x="169" y="380.9" width="3.6" height="4.2" rx="0.8" fill="#000"/>
<!-- save -->
<path d="M203,369 H216.5 L219.2,371.7 V384.2 H203Z" fill="none" stroke="#000" stroke-width="2"/>
<rect x="205" y="369" width="8.5" height="5.6" fill="#000"/>
<rect x="209.2" y="370.2" width="2.6" height="3" fill="#f0f0f0"/>
<rect x="205.2" y="378.7" width="11.8" height="5.5" fill="none" stroke="#000" stroke-width="1.6"/>
<!-- title icon -->
<rect x="9" y="6" width="15" height="15" fill="#fff"/>
<circle cx="16.4" cy="13.4" r="6.6" fill="none" stroke="#2a62a8" stroke-width="1.1" stroke-dasharray="1.3 1.9"/>
<path d="M16.4,13.4 L13.5,8.6 L11.8,10.5Z" fill="#f08a3c" fill-opacity="0.9"/>
<path d="M16.4,13.4 L11.2,12.2 L11.5,15.2Z" fill="#f2c230" fill-opacity="0.9"/>
<path d="M16.4,13.4 L18.6,9.2 L20.2,10.8Z" fill="#8cc060" fill-opacity="0.9"/>
<path d="M16.4,13.4 L20.5,17.2 L18.4,18.5Z" fill="#d07040" fill-opacity="0.9"/>
<path d="M16.4,13.4 L14.2,17.8 L16.8,18.2Z" fill="#80a0c0" fill-opacity="0.7"/>
<circle cx="16.4" cy="13.4" r="1.3" fill="#555"/>
<!-- min / max / close -->
<rect x="612" y="12" width="8" height="2" fill="#222"/>
<rect x="636" y="6.5" width="9.5" height="7.5" fill="none" stroke="#222" stroke-width="1"/>
<rect x="636" y="6.5" width="9.5" height="2" fill="#222"/>
<rect x="653" y="1" width="40.5" height="17.6" fill="#c75050"/>
<path d="M670,7 L677.3,14 M677.3,7 L670,14" stroke="#fff" stroke-width="1.4"/>
<text x="349.5" y="18.7" text-anchor="middle" font-size="13" fill="#222">Figure 1</text>
<text x="678.6" y="379.7" text-anchor="end" font-size="11" fill="#222" textLength="70" lengthAdjust="spacingAndGlyphs">x=1.10 y=0.111</text>
</svg>

</body></html>
